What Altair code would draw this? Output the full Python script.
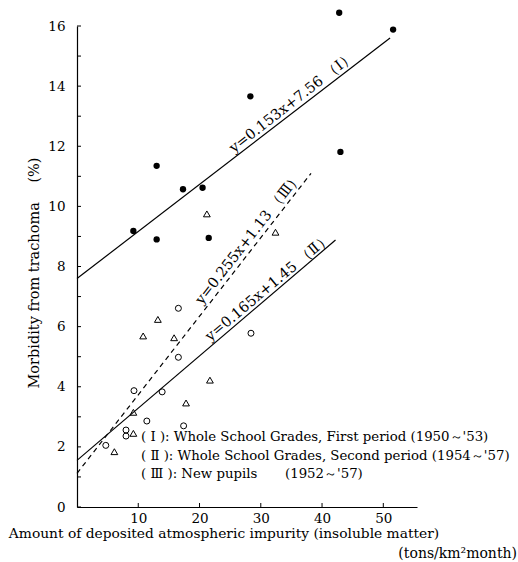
import altair as alt
import pandas as pd

# ---- data ----
# (I) Whole School Grades, first period -> filled circles
g1_x = [9.2, 13.0, 13.0, 17.3, 20.5, 21.5, 28.3, 42.8, 51.6, 43.0]
g1_y = [9.18, 11.35, 8.9, 10.57, 10.62, 8.95, 13.66, 16.44, 15.88, 11.81]
# (II) open circles
g2_x = [16.55, 16.55, 9.3, 13.9, 11.4, 17.4, 4.7, 8.0, 8.0, 28.4]
g2_y = [6.61, 4.98, 3.87, 3.83, 2.86, 2.70, 2.05, 2.56, 2.36, 5.78]
# (III) open triangles
g3_x = [13.2, 10.8, 15.85, 17.8, 9.2, 9.2, 6.1, 21.7, 21.2, 32.4]
g3_y = [6.24, 5.69, 5.63, 3.46, 3.15, 2.45, 1.84, 4.22, 9.75, 9.14]

# regression lines (end points as drawn)
line_names = ["I", "I", "II", "II", "III", "III"]
line_x = [0.0, 51.1, 0.0, 42.2, 0.0, 38.2]
line_y = [7.6, 15.6, 1.55, 8.88, 1.12, 11.1]

label_text = ["y=0.153x+7.56 （Ⅰ）", "y=0.165x+1.45 （Ⅱ）", "y=0.255x+1.13 （Ⅲ）"]
label_x = [35.6, 31.7, 28.6]
label_y = [13.35, 7.2, 8.85]
label_angle = [322, 320, 308]

y_ticks = list(range(0, 17))
y_labels = [0, 2, 4, 6, 8, 10, 12, 14, 16]
x_ticks = [10, 20, 30, 40, 50]

legend_lines = [
    "( Ⅰ ): Whole School Grades, First  period (1950～'53)",
    "( Ⅱ ): Whole School Grades, Second period (1954～'57)",
    "( Ⅲ ): New pupils",
]
legend_years = "(1952～'57)"

FONT = "DejaVu Serif, Liberation Serif, serif"
W, H = 340, 481
XD = [0, 55.5]
YD = [0, 16]

xs = alt.Scale(domain=XD, nice=False, zero=False)
ys = alt.Scale(domain=YD, nice=False, zero=False)

d1 = pd.DataFrame({"x": g1_x, "y": g1_y})
d2 = pd.DataFrame({"x": g2_x, "y": g2_y})
d3 = pd.DataFrame({"x": g3_x, "y": g3_y})
dl = pd.DataFrame({"g": line_names, "x": line_x, "y": line_y})
dlab = pd.DataFrame({"t": label_text, "x": label_x, "y": label_y, "a": label_angle})

xaxis = alt.Axis(values=x_ticks, title=None, tickSize=0, labelPadding=4,
                 labelFont=FONT, labelFontSize=13.5, labelColor="black",
                 domainColor="black", domainWidth=1.2, grid=False)
yaxis = alt.Axis(values=y_labels, title=None, tickSize=0, labelPadding=12,
                 labelFont=FONT, labelFontSize=13.5, labelColor="black",
                 domainColor="black", domainWidth=1.2, grid=False)

base_x = alt.X("x:Q", scale=xs, axis=xaxis)
base_y = alt.Y("y:Q", scale=ys, axis=yaxis)

pts1 = alt.Chart(d1).mark_circle(size=40, color="black", opacity=1).encode(x=base_x, y=base_y)
pts2 = alt.Chart(d2).mark_point(shape="circle", filled=False, size=36, color="black",
                                strokeWidth=1, opacity=1).encode(x="x:Q", y="y:Q")
pts3 = alt.Chart(d3).mark_point(shape="triangle-up", filled=False, size=46, color="black",
                                strokeWidth=1, opacity=1).encode(x="x:Q", y="y:Q")

lines_solid = alt.Chart(dl).transform_filter("datum.g != 'III'").mark_line(
    color="black", strokeWidth=1.2).encode(x="x:Q", y="y:Q", detail="g:N")
lines_dash = alt.Chart(dl).transform_filter("datum.g == 'III'").mark_line(
    color="black", strokeWidth=1.2, strokeDash=[5, 4]).encode(x="x:Q", y="y:Q")

labels = alt.layer(*[
    alt.Chart(dlab.iloc[[i]]).mark_text(font=FONT, fontSize=14.5, color="black",
                                        angle=int(label_angle[i]), align="center",
                                        baseline="alphabetic").encode(x="x:Q", y="y:Q", text="t:N")
    for i in range(3)
])

ytick_df = pd.DataFrame({"y": y_ticks})
yt = alt.Chart(ytick_df).mark_rule(color="black", strokeWidth=1).encode(
    y="y:Q", x=alt.value(0), x2=alt.value(4))
xtick_df = pd.DataFrame({"x": x_ticks})
xt = alt.Chart(xtick_df).mark_rule(color="black", strokeWidth=1).encode(
    x="x:Q", y=alt.value(H), y2=alt.value(H - 4))


def txt(t, x, y, size=14, align="left", angle=0):
    return alt.Chart(pd.DataFrame({"t": [t]})).mark_text(
        font=FONT, fontSize=size, color="black", align=align, baseline="middle",
        angle=angle).encode(x=alt.value(x), y=alt.value(y), text="t:N")


leg = [txt(t, 64, 411 + i * 18.5, size=13.3) for i, t in enumerate(legend_lines)]
leg_years = txt(legend_years, 208, 448, size=13.3)

ytitle = txt("Morbidity from trachoma　 (%)", -42, 247, size=14.5, align="center", angle=270)
xtitle = txt("Amount of deposited atmospheric impurity (insoluble matter)", 147, 508,
             size=13.8, align="center")
xunit = txt("(tons/km²month)", 440, 528, size=14, align="right")

chart = alt.layer(
    pts1, pts2, pts3, lines_solid, lines_dash, labels, yt, xt, *leg, leg_years,
    ytitle, xtitle, xunit
).properties(
    width=W, height=H,
    autosize=alt.AutoSizeParams(type="none"),
    padding={"left": 77, "top": 26, "right": 101, "bottom": 55},
    background="white",
).configure_view(stroke=None)

chart.save("out.html", embed_options={"renderer": "svg", "actions": False})
